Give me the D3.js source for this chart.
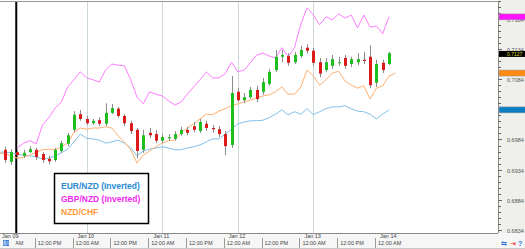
<!DOCTYPE html>
<html>
<head>
<meta charset="utf-8">
<script src="https://cdn.jsdelivr.net/npm/d3@7"></script>
<style>
body { margin: 0; background: #fff; }
svg { display: block; font-family: "Liberation Sans", Arial, sans-serif; }
</style>
</head>
<body>
<div id="chart"></div>
<script>
// 2-hour candles, first one at candleStart
var candleStart = "2017-01-08T22:00";
var opens = [.6967, .6947, .6963, .6957, .6963, .6967, .6960, .6952, .6950, .6965,
             .6977, .7000, .7026, .7018, .7011, .7016, .7010, .7028, .7035, .7023,
             .7011, .7000, .6967, .6995, .6993, .6982, .6986, .6985, .6993, .7000,
             .7006, .6998, .7010, .7003, .7001, .6993, .6975, .7063, .7049, .7054,
             .7066, .7063, .7076, .7099, .7121, .7122, .7112, .7122, .7136, .7131,
             .7112, .7099, .7106, .7111, .7119, .7109, .7112, .7116, .7121, .7078,
             .7111, .7109];
var closes = [.6950, .6963, .6958, .6962, .6968, .6955, .6950, .6948, .6967, .6978,
              .6991, .7025, .7018, .7011, .7015, .7010, .7028, .7036, .7023, .7011,
              .6998, .6965, .6991, .6991, .6982, .6988, .6988, .6993, .7000, .6995,
              .7000, .7013, .7003, .7001, .6993, .6973, .7061, .7049, .7054, .7066,
              .7051, .7079, .7096, .7121, .7124, .7111, .7124, .7132, .7131, .7111,
              .7093, .7112, .7117, .7112, .7106, .7117, .7117, .7114, .7074, .7109,
              .7099, .7127];
var highs = [.6972, .6968, .6967, .6967, .6973, .6970, .6963, .6957, .6970, .6982,
             .6995, .7031, .7033, .7023, .7018, .7021, .7044, .7043, .7038, .7026,
             .7015, .7003, .7000, .7003, .7000, .6993, .6993, .6998, .7005, .7005,
             .7013, .7018, .7015, .7008, .7006, .6998, .7089, .7069, .7061, .7071,
             .7073, .7086, .7101, .7132, .7132, .7127, .7129, .7139, .7142, .7136,
             .7119, .7119, .7124, .7121, .7124, .7121, .7127, .7129, .7140, .7116,
             .7116, .7129];
var lows = [.6945, .6942, .6955, .6953, .6962, .6950, .6945, .6943, .6947, .6962,
            .6973, .6996, .7015, .7008, .7008, .7006, .7006, .7026, .7020, .7006,
            .6993, .6953, .6962, .6986, .6978, .6978, .6982, .6982, .6990, .6991,
            .6996, .6995, .6998, .6995, .6988, .6958, .6970, .7046, .7044, .7051,
            .7046, .7058, .7073, .7096, .7112, .7106, .7109, .7119, .7126, .7106,
            .7087, .7096, .7101, .7106, .7101, .7104, .7107, .7109, .7069, .7071,
            .7094, .7107];

// overlay series, already rescaled to the chart's price axis
var eurNzdStart = "2017-01-08T20:00";
var eurNzd = [.6963, .6963, .6962, .6960, .6958, .6957, .6955, .6952, .6953, .6957,
              .6962, .6968, .6980, .6993, .6986, .6985, .6983, .6978, .6980, .6983,
              .6978, .6970, .6957, .6965, .6968, .6970, .6972, .6970, .6967, .6967,
              .6970, .6972, .6975, .6980, .6985, .6985, .6993, .7001, .7010, .7013,
              .7015, .7015, .7016, .7020, .7026, .7033, .7025, .7030, .7026, .7035,
              .7025, .7030, .7035, .7038, .7038, .7040, .7035, .7031, .7030, .7026,
              .7018, .7026, .7033];
var gbpNzdStart = "2017-01-09T02:00";
var gbpNzd = [.6970, .6978, .6982, .6977, .7008, .7020, .7036, .7046, .7071, .7083,
              .7096, .7086, .7083, .7079, .7099, .7109, .7107, .7106, .7083, .7054,
              .7043, .7063, .7059, .7056, .7048, .7041, .7046, .7059, .7071, .7083,
              .7096, .7086, .7086, .7093, .7112, .7096, .7099, .7111, .7124, .7127,
              .7122, .7119, .7136, .7121, .7136, .7175, .7202, .7190, .7174, .7187,
              .7182, .7192, .7185, .7190, .7169, .7190, .7170, .7172, .7159, .7187];
var nzdChfStart = "2017-01-08T20:00";
var nzdChf = [.6962, .6960, .6957, .6953, .6955, .6958, .6963, .6967, .6968, .6967,
              .6972, .6978, .6996, .7003, .7001, .7003, .7003, .7005, .7003, .6990,
              .6980, .6967, .6945, .6958, .6965, .6972, .6978, .6982, .6983, .6995,
              .7003, .7010, .7018, .7026, .7025, .7031, .7035, .7040, .7043, .7046,
              .7049, .7053, .7056, .7058, .7063, .7071, .7059, .7059, .7071, .7099,
              .7089, .7074, .7083, .7094, .7097, .7081, .7074, .7069, .7073, .7051,
              .7069, .7073, .7089, .7094];

var seriesNames = ["EUR/NZD (Inverted)", "GBP/NZD (Inverted)", "NZD/CHF"];
var priceLabels = ["0.6834", "0.6884", "0.6934", "0.6984", "0.7034", "0.7084", "0.7134", "0.7184"];
var dayLabels = ["Jan 09", "Jan 10", "Jan 11", "Jan 12", "Jan 13", "Jan 14"];
var gridDays = ["Jan 10", "Jan 11", "Jan 12", "Jan 13"];
var firstDay = "2017-01-09T00:00";
var separatorTime = "2017-01-09T01:40";

function init() {
    var w = 525, h = 249;
    var plotRight = 498, plotBottom = 233;
    var parse = d3.timeParse("%Y-%m-%dT%H:%M");
    var day0 = parse(firstDay);

    var svg = d3.select("#chart").append("svg")
        .attr("width", w)
        .attr("height", h);

    var xScale = d3.scaleTime()
        .domain([day0, d3.timeDay.offset(day0, 5)])
        .range([11, 389]);

    var yScale = d3.scaleLinear()
        .domain([+priceLabels[0], +priceLabels[priceLabels.length - 1]])
        .range([230.1, 18.7]);

    function toPoints(start, values) {
        var t0 = parse(start);
        return values.map(function(v, i) { return { t: d3.timeHour.offset(t0, 2 * i), v: v }; });
    }

    // panels
    svg.append("rect").attr("x", plotRight).attr("y", 0).attr("width", w - plotRight).attr("height", h)
        .attr("fill", "#efefeb");
    svg.append("rect").attr("x", 0).attr("y", plotBottom).attr("width", w).attr("height", h - plotBottom)
        .attr("fill", "#f6f6f6");
    svg.append("rect").attr("x", 0).attr("y", 0).attr("width", plotRight).attr("height", plotBottom)
        .attr("fill", "#fff");

    svg.append("defs").append("clipPath").attr("id", "plot")
        .append("rect").attr("x", 0).attr("y", 1).attr("width", plotRight).attr("height", plotBottom - 1);
    var plot = svg.append("g").attr("clip-path", "url(#plot)");

    // day grid lines
    plot.selectAll(".grid")
        .data(gridDays)
        .enter().append("line")
        .attr("x1", function(d) { return Math.round(xScale(d3.timeDay.offset(day0, dayLabels.indexOf(d)))) + 0.5; })
        .attr("x2", function(d) { return Math.round(xScale(d3.timeDay.offset(day0, dayLabels.indexOf(d)))) + 0.5; })
        .attr("y1", 1).attr("y2", plotBottom)
        .attr("stroke", "#cdd8d8");

    // vertical separator line
    plot.append("line")
        .attr("x1", xScale(parse(separatorTime))).attr("x2", xScale(parse(separatorTime)))
        .attr("y1", 1).attr("y2", plotBottom)
        .attr("stroke", "#000").attr("stroke-width", 2);

    var line = d3.line()
        .x(function(d) { return xScale(d.t); })
        .y(function(d) { return yScale(d.v); });

    var overlays = [
        { pts: toPoints(eurNzdStart, eurNzd), color: "#82c0ea", marker: "#0a7fc4" },
        { pts: toPoints(gbpNzdStart, gbpNzd), color: "#ff7cff", marker: "#ff14ff" },
        { pts: toPoints(nzdChfStart, nzdChf), color: "#ffb070", marker: "#ff8a12" }
    ];

    plot.selectAll(".overlay")
        .data(overlays)
        .enter().append("path")
        .attr("d", function(d) { return line(d.pts); })
        .attr("fill", "none")
        .attr("stroke", function(d) { return d.color; })
        .attr("stroke-width", 1);

    var t0 = parse(candleStart);
    var candles = opens.map(function(o, i) {
        return { t: d3.timeHour.offset(t0, 2 * i), o: o, h: highs[i], l: lows[i], c: closes[i] };
    });

    plot.selectAll(".wick")
        .data(candles)
        .enter().append("line")
        .attr("x1", function(d) { return Math.round(xScale(d.t)) + 0.5; })
        .attr("x2", function(d) { return Math.round(xScale(d.t)) + 0.5; })
        .attr("y1", function(d) { return yScale(d.h); })
        .attr("y2", function(d) { return yScale(d.l); })
        .attr("stroke", "#8c8c8c");

    plot.selectAll(".body")
        .data(candles)
        .enter().append("rect")
        .attr("x", function(d) { return Math.round(xScale(d.t)) - 1; })
        .attr("y", function(d) { return yScale(Math.max(d.o, d.c)); })
        .attr("width", 3)
        .attr("height", function(d) { return Math.max(1, Math.abs(yScale(d.o) - yScale(d.c))); })
        .attr("fill", function(d) { return d.c >= d.o ? "#1cbf1c" : "#dc1a1a"; });

    // frame
    svg.append("line").attr("x1", 0).attr("x2", plotRight).attr("y1", 1.5).attr("y2", 1.5).attr("stroke", "#9a9a9a");
    svg.append("line").attr("x1", plotRight + 0.5).attr("x2", plotRight + 0.5).attr("y1", 1).attr("y2", plotBottom).attr("stroke", "#8a8a8a");
    svg.append("line").attr("x1", 0).attr("x2", plotRight).attr("y1", plotBottom + 0.5).attr("y2", plotBottom + 0.5).attr("stroke", "#8a8a8a");

    // price axis
    var minor = d3.range(0, 39).map(function(k) { return +priceLabels[0] + k * 0.001; });
    svg.selectAll(".minor")
        .data(minor)
        .enter().append("line")
        .attr("x1", plotRight).attr("x2", function(d, i) { return plotRight + (i % 5 === 0 ? 4 : 3); })
        .attr("y1", function(d) { return Math.round(yScale(d)) + 0.5; })
        .attr("y2", function(d) { return Math.round(yScale(d)) + 0.5; })
        .attr("stroke", "#666");

    svg.selectAll(".plabel")
        .data(priceLabels)
        .enter().append("text")
        .attr("x", 507)
        .attr("y", function(d) { return yScale(+d) + 2.8; })
        .attr("font-size", "5.5px")
        .attr("fill", "#555")
        .text(function(d) { return d; });

    // last value markers
    overlays.forEach(function(o) {
        var last = o.pts[o.pts.length - 1].v;
        svg.append("rect")
            .attr("x", plotRight + 1).attr("y", yScale(last) - 3)
            .attr("width", w - plotRight).attr("height", 6)
            .attr("fill", o.marker).attr("stroke", "#999").attr("stroke-width", 0.5);
    });
    var lastClose = closes[closes.length - 1];
    svg.append("rect")
        .attr("x", plotRight + 1).attr("y", yScale(lastClose) - 2.2)
        .attr("width", w - plotRight).attr("height", 6)
        .attr("fill", "#000");
    svg.append("text")
        .attr("x", 507).attr("y", yScale(lastClose) + 3.2)
        .attr("font-size", "5px")
        .attr("fill", "#d8d820")
        .text(d3.format(".4f")(lastClose));

    // time axis
    var halfDays = d3.timeHour.every(12).range(day0, d3.timeHour.offset(d3.timeDay.offset(day0, 5), 1));
    var fmt = d3.timeFormat("%I:%M %p");
    svg.selectAll(".tsep")
        .data(halfDays)
        .enter().append("line")
        .attr("x1", function(d) { return Math.round(xScale(d)) - 13.5; })
        .attr("x2", function(d) { return Math.round(xScale(d)) - 13.5; })
        .attr("y1", 238).attr("y2", 248)
        .attr("stroke", "#9a9a9a");
    svg.selectAll(".tlabel")
        .data(halfDays)
        .enter().append("text")
        .attr("x", function(d) { return xScale(d) - 11; })
        .attr("y", 245)
        .attr("font-size", "5.5px")
        .attr("fill", "#444")
        .text(function(d) { return fmt(d); });
    svg.selectAll(".dlabel")
        .data(dayLabels)
        .enter().append("text")
        .attr("x", function(d, i) { return xScale(d3.timeDay.offset(day0, i)) - 9; })
        .attr("y", 238)
        .attr("font-size", "5.5px")
        .attr("fill", "#444")
        .text(function(d) { return d; });
    svg.append("line").attr("x1", 0).attr("x2", w).attr("y1", 248.5).attr("y2", 248.5).attr("stroke", "#c8c8c8");

    // small toolbar icons
    svg.append("rect").attr("x", 0).attr("y", 239).attr("width", 15.5).attr("height", 9).attr("fill", "#f6f6f6");
    svg.append("rect").attr("x", 3).attr("y", 240).attr("width", 6).attr("height", 6).attr("fill", "#3a7ad8");
    svg.append("path").attr("d", "M3,242h6M3,244h6M5,240v6").attr("stroke", "#fff").attr("stroke-width", 0.6);
    svg.append("text").attr("x", 501).attr("y", 246).attr("font-size", "7px").attr("fill", "#2a6ed8").text("⇆");
    svg.append("text").attr("x", 510).attr("y", 246).attr("font-size", "7px").attr("fill", "#e02020").text("⇥");
    svg.append("text").attr("x", 518).attr("y", 246).attr("font-size", "7px").attr("font-weight", "bold").attr("fill", "#2a6ed8").text("?");

    // legend
    var legendColors = ["#2a8cd2", "#f02af0", "#ff9a3c"];
    svg.append("rect")
        .attr("x", 54.5).attr("y", 173.5).attr("width", 94).attr("height", 50)
        .attr("fill", "#fff").attr("stroke", "#000").attr("stroke-width", 1.5);
    svg.selectAll(".legend")
        .data(seriesNames)
        .enter().append("text")
        .attr("x", 61)
        .attr("y", function(d, i) { return 189 + i * 13; })
        .attr("font-size", "8.5px")
        .attr("font-weight", "bold")
        .attr("fill", function(d, i) { return legendColors[i]; })
        .text(function(d) { return d; });
}

window.onload = init;
</script>
</body>
</html>
